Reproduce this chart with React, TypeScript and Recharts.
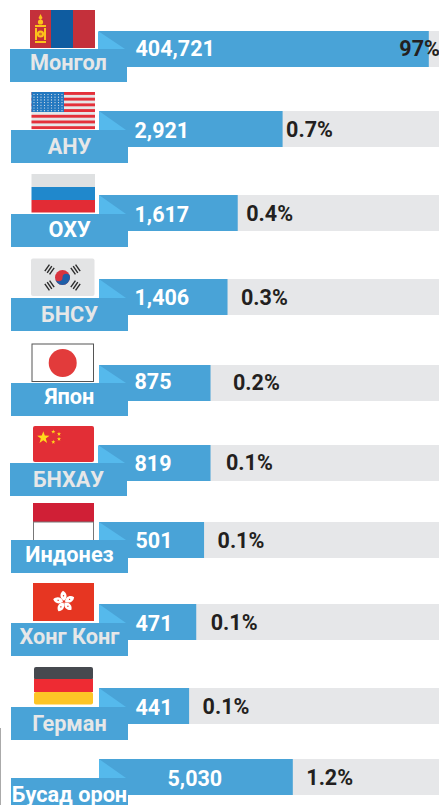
import { BarChart, Bar, XAxis, YAxis } from 'recharts';

const countries = ['Монгол', 'АНУ', 'ОХУ', 'БНСУ', 'Япон', 'БНХАУ', 'Индонез', 'Хонг Конг', 'Герман', 'Бусад орон'];
const counts = [404721, 2921, 1617, 1406, 875, 819, 501, 471, 441, 5030];
const shares = ['97%', '0.7%', '0.4%', '0.3%', '0.2%', '0.1%', '0.1%', '0.1%', '0.1%', '1.2%'];
// bar lengths are not to scale in the source, read as % of the grey track
const plotted = [97, 54, 40.8, 37.8, 32.8, 32.8, 30.9, 28.6, 26.5, 57];

// the source rows are hand placed, so these hold the per row adjustments
const rowNudge = [0, 0, 3, 6, 11, 9.5, 6.5, 7.5, 10, 0];
const tabShift = [-1, 0, 0, 0, 0, -1, 0, 0, 0, 0];
const tabDrop = [18, 19, 19, 19, 18, 18, 18, 19, 19, 19];
const labelDrop = [21, 24, 23, 24, 21, 24, 22, 21, 24, 24];
const countX = [135.5, 134.5, 134.5, 134.5, 134.5, 134.5, 135.5, 135.5, 135.5, 167.5];
const countDrop = [25, 27, 27, 26, 24, 26, 26, 27, 27, 27];
const shareDrop = [25, 26, 26, 26, 25, 25, 26, 26, 26, 26];
const shareGap = [-29.5, 3.5, 8.5, 13.5, 22.5, 15.5, 13.5, 14.5, 13.5, 13.5];
const labelFill = ['#e6e7e8', '#e6e7e8', '#fff', '#e6e7e8', '#fff', '#e6e7e8', '#fff', '#e6e7e8', '#e6e7e8', '#fff'];

const BLUE = '#49a3d7';
const FOLD = '#55b9ec';
const TRACK = '#e6e7e9';
const FONT = 'Roboto, sans-serif';

const data = countries.map((country, i) => ({ country, plotted: plotted[i] }));

function starPoints(cx: number, cy: number, r: number, rot = -90) {
  const pts: string[] = [];
  for (let i = 0; i < 10; i++) {
    const rad = i % 2 ? r * 0.4 : r;
    const a = ((rot + i * 36) * Math.PI) / 180;
    pts.push(`${cx + rad * Math.cos(a)},${cy + rad * Math.sin(a)}`);
  }
  return pts.join(' ');
}

function Mongolia() {
  return (
    <g transform="translate(30,10)">
      <rect width={65} height={38} fill="#c4303b" />
      <rect x={21} width={22} height={38} fill="#0f5ca0" />
      <g fill="#fcc21b">
        <path d="M10.5 4 L12.5 8 L10.5 10 L8.5 8 Z" />
        <circle cx={10.5} cy={12} r={2.6} />
        <rect x={5} y={15} width={11} height={2} />
        <rect x={5} y={31} width={11} height={2} />
        <rect x={5} y={18} width={2} height={12} />
        <rect x={14} y={18} width={2} height={12} />
        <circle cx={10.5} cy={24} r={3.6} />
      </g>
      <circle cx={10.5} cy={24} r={1.6} fill="#d9702a" />
    </g>
  );
}

function Usa() {
  const stripes = [0, 1, 2, 3, 4, 5, 6];
  const dots: [number, number][] = [];
  for (let r = 0; r < 7; r++) for (let c = 0; c < 9; c++) dots.push([2.5 + c * 3.5, 2.5 + r * 2.7]);
  return (
    <g transform="translate(31.5,92)">
      <rect width={63.5} height={37} rx={2} fill="#e6e7e8" />
      {stripes.map((s) => (
        <rect key={s} y={s * 5.7} width={63.5} height={2.9} fill="#e4303a" />
      ))}
      <rect width={32.5} height={20} fill="#2378c0" />
      {dots.map(([cx, cy], i) => (
        <circle key={i} cx={cx} cy={cy} r={0.6} fill="#e6e7e8" />
      ))}
    </g>
  );
}

function Russia() {
  return (
    <g transform="translate(31.5,174)">
      <rect width={63.5} height={13} fill="#dfe1e2" />
      <rect y={13} width={63.5} height={13} fill="#2088cc" />
      <rect y={26} width={63.5} height={12.5} fill="#e22c35" />
    </g>
  );
}

function Korea() {
  const bars = [
    [-13, -8, 35],
    [13, -8, -35],
    [-13, 8, -35],
    [13, 8, 35],
  ];
  return (
    <g transform="translate(31,258.5)">
      <rect width={63.5} height={37.5} rx={2} fill="#e3e4e5" />
      <g transform="translate(31.5,19)">
        <circle r={7.5} fill="#d9343f" />
        <path d="M-7.5 0 A3.75 3.75 0 0 0 0 0 A3.75 3.75 0 0 1 7.5 0 A7.5 7.5 0 0 1 -7.5 0 Z" fill="#1f5fa8" />
        {bars.map(([bx, by, rot], i) => (
          <g key={i} transform={`translate(${bx},${by}) rotate(${rot})`} fill="#2b2b2b">
            <rect x={-3.6} y={-4} width={1.4} height={8} />
            <rect x={-0.7} y={-4} width={1.4} height={8} />
            <rect x={2.2} y={-4} width={1.4} height={8} />
          </g>
        ))}
      </g>
    </g>
  );
}

function Japan() {
  return (
    <g transform="translate(32,344)">
      <rect x={0} y={0} width={61.5} height={37.5} fill="#fff" stroke="#555" strokeWidth={1} />
      <circle cx={30.7} cy={19} r={14} fill="#e23b3b" />
    </g>
  );
}

function China() {
  return (
    <g transform="translate(33,426)">
      <rect width={61} height={36} rx={2} fill="#e22e36" />
      <polygon points={starPoints(10.3, 11.7, 6.5)} fill="#ffd91a" />
      <polygon points={starPoints(20.3, 5.7, 2.2)} fill="#ffd91a" />
      <polygon points={starPoints(26, 8, 2.2)} fill="#ffd91a" />
      <polygon points={starPoints(26, 13, 2.2)} fill="#ffd91a" />
      <polygon points={starPoints(20.3, 16, 2.2)} fill="#ffd91a" />
    </g>
  );
}

function Indonesia() {
  return (
    <g transform="translate(33,503)">
      <rect width={61} height={19} fill="#d01f36" />
      <rect x={0.5} y={19} width={60} height={19} fill="#fff" stroke="#777" strokeWidth={1} />
    </g>
  );
}

function HongKong() {
  const petals = [0, 72, 144, 216, 288];
  return (
    <g transform="translate(33,583)">
      <rect width={61} height={38} fill="#e63622" />
      <g transform="translate(31,18.7)">
        {petals.map((rot) => (
          <g key={rot} transform={`rotate(${rot})`}>
            <path d="M0 -1 C-4 -3 -5 -8 -1 -11 C3 -9 4 -4 0 -1 Z" fill="#fff" />
            <circle cx={-0.5} cy={-6} r={0.7} fill="#e63622" />
          </g>
        ))}
      </g>
    </g>
  );
}

function Germany() {
  return (
    <g transform="translate(34,667)">
      <rect width={59} height={13} rx={2} fill="#46494f" />
      <rect y={12} width={59} height={13} fill="#ee2b33" />
      <rect y={25} width={59} height={12.5} rx={2} fill="#fdc526" />
    </g>
  );
}

const flags = [Mongolia, Usa, Russia, Korea, Japan, China, Indonesia, HongKong, Germany];

function Row(props: any) {
  const { x, y, width, height, index, background } = props;
  const i = index as number;
  const top = Math.round(y + rowNudge[i]);
  const right = x + width;
  const tabTop = top + tabDrop[i];
  const tabLeft = 11 + tabShift[i];
  const left = x + tabShift[i];
  const Flag = flags[i];
  return (
    <g>
      {Flag && <Flag />}
      <rect x={background.x} y={top} width={background.width} height={height} fill={TRACK} />
      <rect x={x} y={top} width={width} height={height} fill={BLUE} />
      <path d={`M${left} ${top} L${left + 27} ${tabTop} L${left} ${tabTop} Z`} fill={FOLD} />
      <rect x={tabLeft} y={tabTop} width={117} height={33} fill={BLUE} />
      <text x={tabLeft + 58.5} y={tabTop + labelDrop[i]} textAnchor="middle" fontFamily={FONT} fontWeight={700} fontSize={21.7} fill={labelFill[i]}>
        {countries[i]}
      </text>
      <text x={countX[i]} y={top + countDrop[i]} fontFamily={FONT} fontWeight={700} fontSize={21.5} fill="#fff">
        {counts[i].toLocaleString('en-US')}
      </text>
      <text x={right + shareGap[i]} y={top + shareDrop[i]} fontFamily={FONT} fontWeight={700} fontSize={21.5} fill="#231f20">
        {shares[i]}
      </text>
    </g>
  );
}

export default function App() {
  return (
    <div style={{ position: 'absolute', left: 0, top: 0, width: 439, height: 805, overflow: 'hidden', background: '#fff' }}>
      <div style={{ position: 'absolute', left: 0, top: 728, width: 1, height: 77, background: '#aaa' }} />
      <BarChart width={439} height={820} data={data} layout="vertical" barSize={36} margin={{ top: 8.5, right: 0, bottom: 2.5, left: 99 }}>
        <XAxis type="number" domain={[0, 100]} hide />
        <YAxis type="category" dataKey="country" hide />
        <Bar dataKey="plotted" background={{ fill: 'none' }} shape={Row} isAnimationActive={false} />
      </BarChart>
    </div>
  );
}
